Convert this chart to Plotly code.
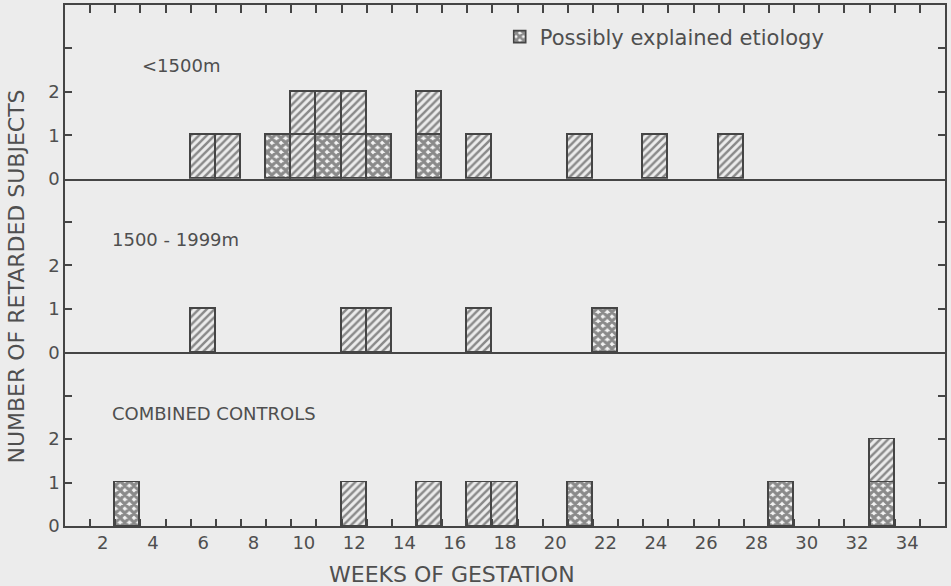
import plotly.graph_objects as go

# ---- data ----
weeks_lt1500 = [6, 7, 9, 10, 11, 12, 13, 15, 17, 21, 24, 27]
explained_lt1500 = [0, 0, 1, 0, 1, 0, 1, 1, 0, 0, 0, 0]
unexplained_lt1500 = [1, 1, 0, 2, 1, 2, 0, 1, 1, 1, 1, 1]

weeks_1500_1999 = [6, 12, 13, 17, 22]
explained_1500_1999 = [0, 0, 0, 0, 1]
unexplained_1500_1999 = [1, 1, 1, 1, 0]

weeks_controls = [3, 12, 15, 17, 18, 21, 29, 33]
explained_controls = [1, 0, 0, 0, 0, 1, 1, 1]
unexplained_controls = [0, 1, 1, 1, 1, 0, 0, 1]

panel_labels = ["<1500m", "1500 - 1999m", "COMBINED CONTROLS"]
x_tick_labels = list(range(2, 35, 2))
week_bounds = [w + 0.5 for w in range(1, 35)]
y_tick_vals = [0, 1, 2, 3]
y_tick_text = ["0", "1", "2", ""]

# ---- style ----
BG = "#ececec"
INK = "#454545"
TXT = "#4f4f4f"
FONT = "DejaVu Sans"

HATCH = dict(shape="/", size=5.5, solidity=0.45, fgcolor="#262626", bgcolor=BG)
CROSS = dict(shape="x", size=6.5, solidity=0.75, fgcolor="#202020", bgcolor="#f4f4f4")

fig = go.Figure()

panels = [
    ("x3", "y3", weeks_lt1500, explained_lt1500, unexplained_lt1500),
    ("x2", "y2", weeks_1500_1999, explained_1500_1999, unexplained_1500_1999),
    ("x", "y", weeks_controls, explained_controls, unexplained_controls),
]

legend_done = False
for xa, ya, weeks, expl, unexpl in panels:
    for counts, pat, name in ((expl, CROSS, "Possibly explained etiology"),
                              (unexpl, HATCH, "Unexplained")):
        for level in range(max(counts)):
            xs = [w for w, c in zip(weeks, counts) if c > level]
            if not xs:
                continue
            show = (pat is CROSS) and not legend_done
            if show:
                legend_done = True
            fig.add_trace(go.Bar(
                x=xs, y=[1] * len(xs), width=1,
                xaxis=xa, yaxis=ya,
                name=name, showlegend=show,
                marker=dict(color=BG, pattern=pat,
                            line=dict(color=INK, width=1.6)),
                hoverinfo="skip",
            ))

# dummy trace so the top mirrored x axis is drawn
fig.add_trace(go.Scatter(x=[None], y=[None], xaxis="x4", yaxis="y3",
                         showlegend=False, hoverinfo="skip"))

XR = [0.5, 35.5]
common_y = dict(range=[0, 4], tickvals=y_tick_vals, ticktext=y_tick_text,
                ticks="inside", ticklen=7, tickwidth=1.5, tickcolor=INK,
                showline=True, linecolor=INK, linewidth=1.6, mirror="ticks",
                showgrid=False, zeroline=False, fixedrange=True,
                tickfont=dict(family=FONT, size=18, color=TXT))

fig.update_layout(
    width=951, height=586,
    margin=dict(l=65, r=6, t=5, b=60, autoexpand=False),
    paper_bgcolor=BG, plot_bgcolor=BG,
    barmode="stack", bargap=0,
    font=dict(family=FONT, color=TXT),
    xaxis=dict(domain=[0, 1], anchor="y", range=XR,
               tickvals=x_tick_labels, ticks="", showticklabels=True,
               tickfont=dict(family=FONT, size=18, color=TXT),
               minor=dict(tickvals=week_bounds, ticks="inside", ticklen=7,
                          tickwidth=1.5, tickcolor=INK, showgrid=False),
               showline=True, linecolor=INK, linewidth=1.6,
               showgrid=False, zeroline=False),
    xaxis2=dict(domain=[0, 1], anchor="y2", range=XR, showticklabels=False,
                ticks="", showline=True, linecolor=INK, linewidth=1.6,
                showgrid=False, zeroline=False),
    xaxis3=dict(domain=[0, 1], anchor="y3", range=XR, showticklabels=False,
                ticks="", showline=True, linecolor=INK, linewidth=1.6,
                showgrid=False, zeroline=False),
    xaxis4=dict(overlaying="x3", anchor="y3", side="top", range=XR,
                tickvals=week_bounds, ticks="inside", ticklen=8,
                tickwidth=1.5, tickcolor=INK, showticklabels=False,
                showline=True, linecolor=INK, linewidth=1.6,
                showgrid=False, zeroline=False),
    yaxis=dict(domain=[0, 1 / 3], anchor="x", **common_y),
    yaxis2=dict(domain=[1 / 3, 2 / 3], anchor="x2", **common_y),
    yaxis3=dict(domain=[2 / 3, 1], anchor="x3", **common_y),
    legend=dict(x=0.494, y=0.978, xanchor="left", yanchor="top",
                bgcolor="rgba(0,0,0,0)",
                font=dict(family=FONT, size=21, color=TXT)),
    showlegend=True,
)

# panel labels
for (xa, ya, *_), label in zip(panels, panel_labels):
    fig.add_annotation(x=2.3 if label != "<1500m" else 3.5, y=2.6,
                       xref=xa, yref=ya, text=label, showarrow=False,
                       xanchor="left", yanchor="middle",
                       font=dict(family=FONT, size=18, color=TXT))

# axis titles
fig.add_annotation(x=-0.055, y=0.478, xref="paper", yref="paper",
                   text="NUMBER OF RETARDED SUBJECTS", textangle=-90,
                   showarrow=False, xanchor="center", yanchor="middle",
                   font=dict(family=FONT, size=22, color=TXT))
fig.add_annotation(x=0.44, y=-0.094, xref="paper", yref="paper",
                   text="WEEKS OF GESTATION", showarrow=False,
                   xanchor="center", yanchor="middle",
                   font=dict(family=FONT, size=22, color=TXT))

fig.write_html(
    "out.html",
    config={"displayModeBar": False},
    post_script="document.body.style.margin='0';"
                "document.body.style.background='#ececec';",
)
